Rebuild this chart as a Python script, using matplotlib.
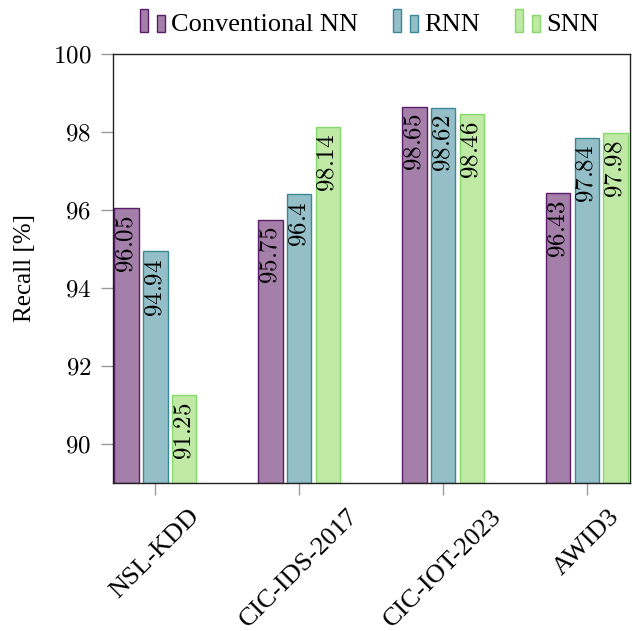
import matplotlib
matplotlib.use("Agg")
import matplotlib.pyplot as plt
import numpy as np
from matplotlib.patches import Rectangle
from matplotlib.legend_handler import HandlerBase
from matplotlib.ticker import FuncFormatter, FixedLocator

plt.rcParams['mathtext.fontset'] = 'cm'
plt.rcParams['font.family'] = ['Liberation Serif', 'DejaVu Serif']

datasets = ['NSL-KDD', 'CIC-IDS-2017', 'CIC-IOT-2023', 'AWID3']
series = ['Conventional NN', 'RNN', 'SNN']
conv_nn = [96.05, 95.75, 98.65, 96.43]
rnn = [94.94, 96.40, 98.62, 97.84]
snn = [91.25, 98.14, 98.46, 97.98]
labels_txt = [['96.05', '95.75', '98.65', '96.43'],
              ['94.94', '96.4', '98.62', '97.84'],
              ['91.25', '98.14', '98.46', '97.98']]
yticks = [90, 92, 94, 96, 98, 100]

fills = ['#a47fa9', '#95bfc8', '#bfe9a5']
edges = ['#5a1d6a', '#3a8797', '#86d96b']

fig = plt.figure(figsize=(6.32, 6.31), dpi=100)
ax = fig.add_axes([113/632, 1-483/631, (630-113)/632, (483-54)/631])

x = np.arange(len(datasets))
offsets = [-0.2, 0.0, 0.2]
width = 0.17
bottom = 89
allvals = [conv_nn, rnn, snn]
for k, vals in enumerate(allvals):
    vals = np.array(vals)
    ax.bar(x + offsets[k], vals - bottom, width, bottom=bottom,
           color=fills[k], edgecolor=edges[k], linewidth=1.0, zorder=2)
    for i, v in enumerate(vals):
        ax.annotate('$' + labels_txt[k][i] + '$', xy=(x[i] + offsets[k], v),
                    xytext=(0, -5), textcoords='offset points',
                    rotation=90, ha='center', va='top', fontsize=18, zorder=3)

ax.set_xlim(-0.295, 3.3)
ax.set_ylim(89, 100)
ax.yaxis.set_major_locator(FixedLocator(yticks))
ax.yaxis.set_major_formatter(FuncFormatter(lambda v, p: r'$%d$' % v))
ax.set_xticks(x)
ax.set_xticklabels(datasets, rotation=45, ha='center', fontsize=19)
ax.tick_params(axis='y', labelsize=18, length=8.6, width=1, color='#999999', pad=7)
ax.tick_params(axis='x', length=8.6, width=1, color='#999999', pad=7.5)
for s in ax.spines.values():
    s.set_color('#222222')
    s.set_linewidth(1.0)
ax.set_ylabel('Recall [%]', fontsize=18, labelpad=12)


class TwoBarHandler(HandlerBase):
    def __init__(self, fc, ec):
        super().__init__()
        self.fc = fc
        self.ec = ec

    def create_artists(self, legend, orig_handle, xdescent, ydescent,
                       width, height, fontsize, trans):
        w1 = 0.33 * width
        w2 = 0.31 * width
        base = -ydescent - 0.05 * height
        r1 = Rectangle((0, base), w1, 1.2 * height, facecolor=self.fc,
                       edgecolor=self.ec, linewidth=1.0, transform=trans)
        r2 = Rectangle((0.69 * width, base), w2, 0.92 * height, facecolor=self.fc,
                       edgecolor=self.ec, linewidth=1.0, transform=trans)
        return [r1, r2]


handles = [Rectangle((0, 0), 1, 1, label=s) for s in series]
hmap = {handles[k]: TwoBarHandler(fills[k], edges[k]) for k in range(3)}
ax_cx = (113 + 630) / 2 / 632
fig.legend(handles=handles, labels=series, handler_map=hmap, loc='center',
           bbox_to_anchor=(ax_cx - 2/632, 1 - 24/631), ncol=3, frameon=False,
           fontsize=19, handlelength=0.95, handleheight=0.75,
           handletextpad=0.25, columnspacing=1.3, borderaxespad=0)

fig.savefig('out.png', dpi=100)
